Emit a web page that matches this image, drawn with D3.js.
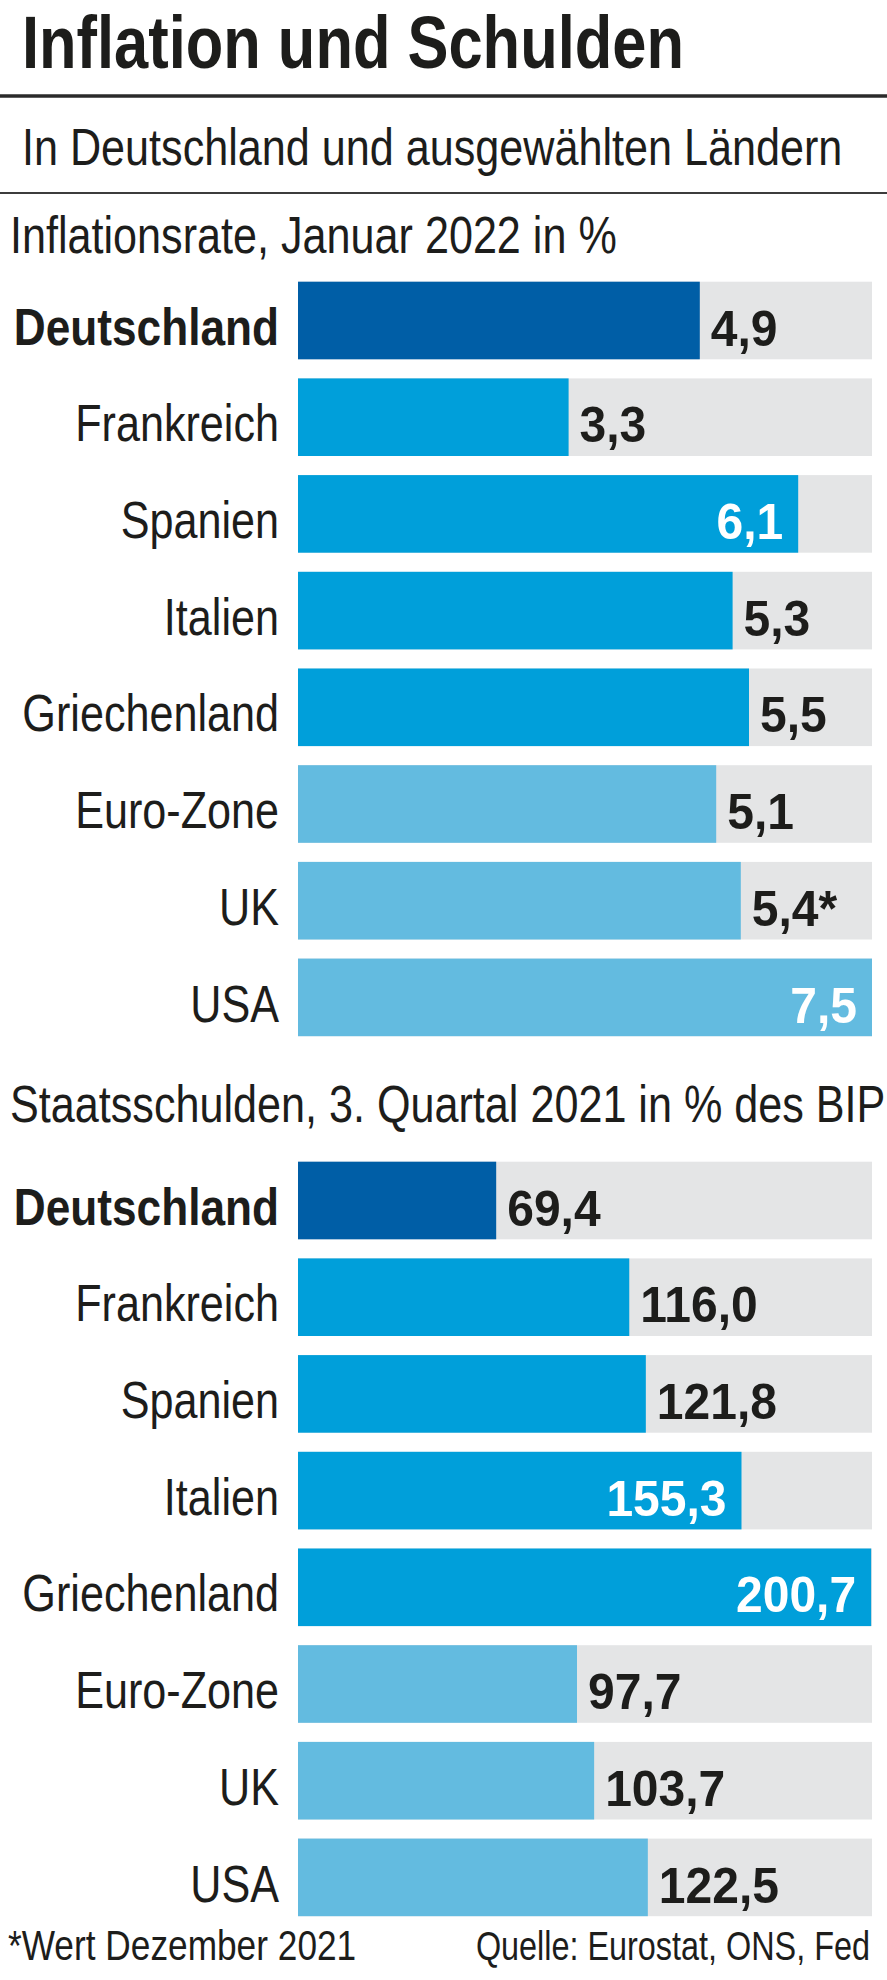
<!DOCTYPE html>
<html>
<head>
<meta charset="utf-8">
<script src="https://cdn.jsdelivr.net/npm/d3@7"></script>
<style>
  body { margin: 0; background: #fff; }
  svg text { font-family: "Liberation Sans", Arial, sans-serif; fill: #1d1d1b; }
</style>
</head>
<body>
<div id="chart"></div>
<script>
const countries = ["Deutschland", "Frankreich", "Spanien", "Italien", "Griechenland", "Euro-Zone", "UK", "USA"];
const groups = ["de", "euro", "euro", "euro", "euro", "other", "other", "other"];
const inflation = [4.9, 3.3, 6.1, 5.3, 5.5, 5.1, 5.4, 7.5];
const inflationNotes = ["", "", "", "", "", "", "*", ""];
const debt = [69.4, 116.0, 121.8, 155.3, 200.7, 97.7, 103.7, 122.5];

const width = 887;
const height = 1980;
// no condensed face installed, so squeeze Liberation Sans horizontally
const squeeze = 0.83;
const squeezeBold = 0.85;
const squeezeValue = 0.96;

const groupColor = d3.scaleOrdinal()
  .domain(["de", "euro", "other"])
  .range(["#005ea6", "#009fda", "#63bbe0"]);

const locale = d3.formatLocale({ decimal: ",", thousands: ".", grouping: [3], currency: ["", " €"] });
const fmt = locale.format(".1f");

const svg = d3.select("#chart")
  .append("svg")
  .attr("width", width)
  .attr("height", height);

svg.append("rect").attr("width", width).attr("height", height).attr("fill", "#fff");

function place(sel, x, y, s = squeeze) {
  return sel.attr("transform", `translate(${x},${y}) scale(${s},1)`);
}

// header
place(svg.append("text"), 22, 68, 0.83)
  .style("font-size", "74px")
  .style("font-weight", "bold")
  .text("Inflation und Schulden");

svg.append("line")
  .attr("x1", 0).attr("x2", width)
  .attr("y1", 96).attr("y2", 96)
  .attr("stroke", "#2b2b2b")
  .attr("stroke-width", 3.5);

place(svg.append("text"), 22, 165)
  .style("font-size", "52px")
  .text("In Deutschland und ausgewählten Ländern");

svg.append("line")
  .attr("x1", 0).attr("x2", width)
  .attr("y1", 193).attr("y2", 193)
  .attr("stroke", "#3c3c3c")
  .attr("stroke-width", 2);

const rows = countries.map((c, i) => ({
  country: c,
  group: groups[i],
  inflation: inflation[i],
  note: inflationNotes[i],
  debt: debt[i]
}));

function panel(title, titleY, top, key, maxVal, noteKey) {
  const x = d3.scaleLinear()
    .domain([0, maxVal])
    .range([298, 872])
    .clamp(true);

  const y = d3.scaleBand()
    .domain(countries)
    .range([top, top + 7 * 96.7 + 77.6])
    .paddingInner(0.1975)
    .paddingOuter(0);

  place(svg.append("text"), 10, titleY)
    .style("font-size", "52px")
    .text(title);

  const g = svg.append("g");

  // grey track
  g.selectAll("rect.track")
    .data(rows)
    .join("rect")
    .attr("class", "track")
    .attr("x", x(0))
    .attr("y", d => y(d.country))
    .attr("width", x(maxVal) - x(0))
    .attr("height", y.bandwidth())
    .attr("fill", "#e4e5e6");

  g.selectAll("rect.bar")
    .data(rows)
    .join("rect")
    .attr("class", "bar")
    .attr("x", x(0))
    .attr("y", d => y(d.country))
    .attr("width", d => x(d[key]) - x(0))
    .attr("height", y.bandwidth())
    .attr("fill", d => groupColor(d.group));

  // country labels
  g.selectAll("text.label")
    .data(rows)
    .join("text")
    .attr("class", "label")
    .attr("transform", d => `translate(279,${y(d.country) + 63}) scale(${d.group === "de" ? squeezeBold : squeeze},1)`)
    .attr("text-anchor", "end")
    .style("font-size", "52px")
    .style("font-weight", d => d.group === "de" ? "bold" : "normal")
    .text(d => d.country);

  // values, inside the bar when there is no room beside it
  g.selectAll("text.value")
    .data(rows)
    .join("text")
    .attr("class", "value")
    .style("font-size", "50px")
    .style("font-weight", "bold")
    .text(d => fmt(d[key]) + (noteKey ? d[noteKey] : ""))
    .each(function (d) {
      const t = d3.select(this);
      const w = this.getComputedTextLength() * squeezeValue;
      const end = x(d[key]);
      const ty = y(d.country) + 64;
      if (x(maxVal) - end < w + 30) {
        place(t, end - 15, ty, squeezeValue).attr("text-anchor", "end").style("fill", "#fff");
      } else {
        place(t, end + 11, ty, squeezeValue).attr("text-anchor", "start");
      }
    });
}

panel("Inflationsrate, Januar 2022 in %", 253, 281.7, "inflation", 7.0, "note");
panel("Staatsschulden, 3. Quartal 2021 in % des BIP", 1122, 1161.7, "debt", 201, null);

// footer
place(svg.append("text"), 8, 1960, 0.84)
  .style("font-size", "42px")
  .text("*Wert Dezember 2021");

place(svg.append("text"), 870, 1960, 0.81)
  .attr("text-anchor", "end")
  .style("font-size", "40px")
  .text("Quelle: Eurostat, ONS, Fed");
</script>
</body>
</html>
